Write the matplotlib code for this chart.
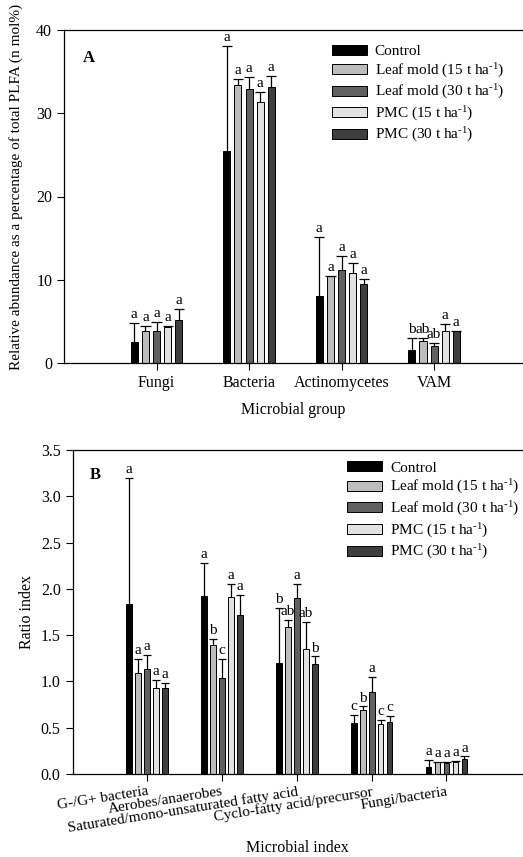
import matplotlib
matplotlib.use('Agg')
import matplotlib.pyplot as plt
import numpy as np

plt.rcParams['font.family'] = ['Liberation Serif', 'DejaVu Serif']
plt.rcParams['mathtext.fontset'] = 'custom'
plt.rcParams['mathtext.rm'] = 'Liberation Serif'
plt.rcParams['mathtext.it'] = 'Liberation Serif:italic'
plt.rcParams['mathtext.bf'] = 'Liberation Serif:bold'

# --- dữ liệu panel A ---
groups_a = ['Fungi', 'Bacteria', 'Actinomycetes', 'VAM']
series = ['Control', 'Leaf mold (15 t ha$^{\\text{-1}}$)', 'Leaf mold (30 t ha$^{\\text{-1}}$)',
          'PMC (15 t ha$^{\\text{-1}}$)', 'PMC (30 t ha$^{\\text{-1}}$)']
colors = ['#000000', '#bdbdbd', '#606060', '#e2e2e2', '#3e3e3e']

a_mean = [[2.5, 25.5, 8.1, 1.6],
          [3.8, 33.4, 10.4, 2.6],
          [3.8, 32.9, 11.2, 2.0],
          [4.3, 31.3, 10.8, 3.8],
          [5.2, 33.2, 9.5, 3.8]]
a_top = [[4.8, 38.1, 15.1, 3.0],
         [4.45, 34.1, 10.45, 2.95],
         [4.9, 34.4, 12.9, 2.35],
         [4.45, 32.5, 12.05, 4.65],
         [6.45, 34.5, 10.1, 3.85]]
a_lett = [['a', 'a', 'a', 'b'],
          ['a', 'a', 'a', 'ab'],
          ['a', 'a', 'a', 'ab'],
          ['a', 'a', 'a', 'a'],
          ['a', 'a', 'a', 'a']]

# --- dữ liệu panel B ---
groups_b = ['G-/G+ bacteria', 'Aerobes/anaerobes', 'Saturated/mono-unsaturated fatty acid',
            'Cyclo-fatty acid/precursor', 'Fungi/bacteria']
b_mean = [[1.84, 1.92, 1.20, 0.55, 0.08],
          [1.09, 1.39, 1.59, 0.69, 0.125],
          [1.13, 1.04, 1.90, 0.89, 0.12],
          [0.93, 1.91, 1.35, 0.54, 0.13],
          [0.93, 1.72, 1.19, 0.56, 0.16]]
b_top = [[3.20, 2.28, 1.79, 0.64, 0.15],
         [1.24, 1.46, 1.66, 0.73, 0.13],
         [1.29, 1.24, 2.05, 1.05, 0.135],
         [1.02, 2.05, 1.64, 0.58, 0.14],
         [0.98, 1.93, 1.27, 0.63, 0.19]]
b_lett = [['a', 'a', 'b', 'c', 'a'],
          ['a', 'b', 'ab', 'b', 'a'],
          ['a', 'c', 'a', 'a', 'a'],
          ['a', 'a', 'ab', 'c', 'a'],
          ['a', 'a', 'b', 'c', 'a']]

pitch = 0.12
bw = 0.076
capw = 0.055


def draw(ax, cats, means, tops, letts, ymax, lett_off):
    x = np.arange(1, len(cats) + 1)
    for i in range(len(series)):
        xi = x + (i - 2) * pitch
        ax.bar(xi, means[i], bw, color=colors[i], edgecolor='black', linewidth=0.7,
               label=series[i], zorder=2)
        # thanh sai số: chỉ phía trên
        ax.vlines(xi, means[i], tops[i], color='black', linewidth=0.9, zorder=3)
        ax.hlines(tops[i], xi - capw, xi + capw, color='black', linewidth=0.9, zorder=3)
        for xx, t, s in zip(xi, tops[i], letts[i]):
            ax.text(xx, t + lett_off, s, ha='center', va='bottom', fontsize=11)
    ax.set_xticks(x)
    ax.set_ylim(0, ymax)
    ax.spines['right'].set_visible(False)
    ax.tick_params(direction='out', length=5, labelsize=11.5, width=0.8)
    for s in ax.spines.values():
        s.set_linewidth(0.9)


fig = plt.figure(figsize=(5.23, 8.57), dpi=100)
leg_kw = dict(loc='upper left', frameon=False, fontsize=11, borderpad=0, borderaxespad=0,
              handlelength=2.3, handleheight=0.64, labelspacing=0.22, handletextpad=0.5)

# --- Panel A ---
axA = fig.add_axes([64 / 523, 1 - 363 / 857, 458 / 523, 333 / 857])
draw(axA, groups_a, a_mean, a_top, a_lett, 40, 0.25)
axA.set_xlim(0, 4.95)
axA.set_yticks([0, 10, 20, 30, 40])
axA.set_xticklabels(groups_a)
axA.set_xlabel('Microbial group', fontsize=11.5, labelpad=8)
axA.set_ylabel('Relative abundance as a percentage of total PLFA (n mol%)', fontsize=11)
axA.yaxis.set_label_coords(-0.09, 0.53)
axA.text(0.055, 0.916, 'A', transform=axA.transAxes, fontsize=12, fontweight='bold',
         ha='center', va='center')
axA.legend(bbox_to_anchor=(0.585, 0.956), **leg_kw)

# --- Panel B ---
axB = fig.add_axes([72.5 / 523, 1 - 774 / 857, 449.5 / 523, 324 / 857])
draw(axB, groups_b, b_mean, b_top, b_lett, 3.5, 0.02)
axB.set_xlim(0, 6.01)
axB.set_yticks(np.arange(0, 3.51, 0.5))
axB.set_yticklabels(['%.1f' % v for v in np.arange(0, 3.51, 0.5)])
axB.set_xticklabels(groups_b, rotation=9, ha='right', rotation_mode='anchor', fontsize=11)
axB.tick_params(axis='x', pad=3)
axB.set_xlabel('Microbial index', fontsize=11.5)
axB.xaxis.set_label_coords(0.5, -0.205)
axB.set_ylabel('Ratio index', fontsize=11.5)
axB.text(0.05, 0.923, 'B', transform=axB.transAxes, fontsize=12, fontweight='bold',
         ha='center', va='center')
axB.legend(bbox_to_anchor=(0.611, 0.965), **leg_kw)

fig.savefig('out.png', dpi=100)
